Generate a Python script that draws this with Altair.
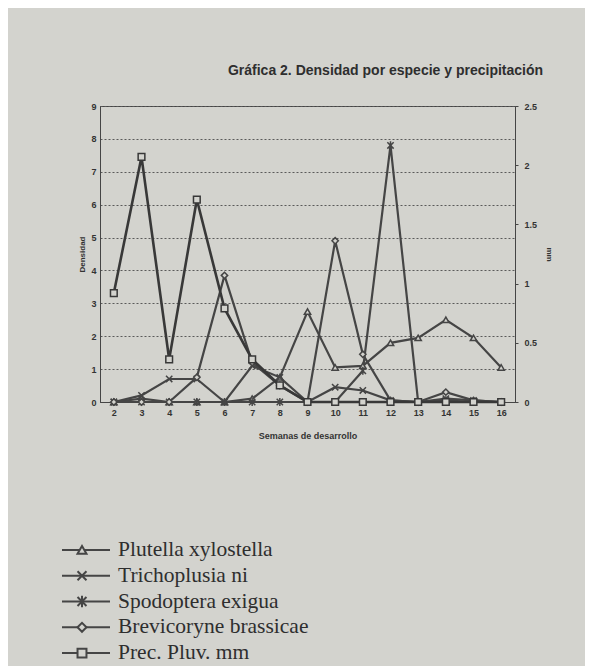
import altair as alt
import pandas as pd

# ---- data ----
semanas = list(range(2, 17))
plutella = [0, 0.1, 0, 0, 0, 0.1, 0.75, 2.75, 1.05, 1.1, 1.8, 1.95, 2.5, 1.95, 1.05]
trichoplusia = [0, 0.2, 0.7, 0.7, 0, 1.1, 0.75, 0, 0.45, 0.35, 0.05, 0, 0.1, 0.05, 0]
spodoptera = [0, 0, 0, 0, 0, 0, 0, 0, 0, 0.95, 7.8, 0, 0.05, 0, 0]
brevicoryne = [0, 0, 0, 0.75, 3.85, 1.2, 0.5, 0, 4.9, 1.45, 0.05, 0, 0.3, 0.05, 0]
prec_mm = [0.92, 2.07, 0.36, 1.71, 0.79, 0.36, 0.14, 0, 0, 0, 0, 0, 0, 0, 0]

species_names = ["Plutella xylostella", "Trichoplusia ni", "Spodoptera exigua",
                 "Brevicoryne brassicae"]
prec_name = "Prec. Pluv. mm"
all_names = species_names + [prec_name]
density_ticks = list(range(0, 10))
mm_ticks = [0, 0.5, 1, 1.5, 2, 2.5]

title_text = "Gráfica 2. Densidad por especie y precipitación"

# ---- styles ----
BG = "#d3d3ce"
INK = "#454545"
shapes = [
    "triangle-up",
    "M-1,-1L1,1M-1,1L1,-1",
    "M-1,-1L1,1M-1,1L1,-1M0,-1.3L0,1.3",
    "diamond",
    "square",
]

rows = []
for name, vals in zip(species_names, [plutella, trichoplusia, spodoptera, brevicoryne]):
    for s, v in zip(semanas, vals):
        rows.append({"semana": s, "serie": name, "densidad": v})
df_sp = pd.DataFrame(rows)
df_pr = pd.DataFrame({"semana": semanas, "mm": prec_mm, "serie": prec_name})

shape_enc = alt.Shape("serie:N", scale=alt.Scale(domain=all_names, range=shapes), legend=None)

x = alt.X("semana:O", title="Semanas de desarrollo",
          axis=alt.Axis(labelAngle=0, ticks=False, labelPadding=6, titlePadding=14))
y_left = alt.Y("densidad:Q", title="Densidad",
               scale=alt.Scale(domain=[0, 9], nice=False),
               axis=alt.Axis(values=density_ticks, grid=True, ticks=False,
                             labelPadding=4, titlePadding=4, titleFontSize=8))
y_right = alt.Y("mm:Q", title="mm",
                scale=alt.Scale(domain=[0, 2.5], nice=False),
                axis=alt.Axis(orient="right", values=mm_ticks, grid=False, format="~g",
                              ticks=True, tickSize=3, labelPadding=6, titlePadding=8,
                              titleFontSize=8))

sp_line = alt.Chart(df_sp).mark_line(color=INK, strokeWidth=2.2).encode(
    x=x, y=y_left, detail="serie:N")
sp_pts = alt.Chart(df_sp).mark_point(
    filled=False, fill=BG, fillOpacity=1, color=INK, strokeWidth=1.5, size=40, opacity=1
).encode(x=x, y=y_left, shape=shape_enc)
species_layer = alt.layer(sp_line, sp_pts)

pr_line = alt.Chart(df_pr).mark_line(color="#383838", strokeWidth=2.6).encode(x=x, y=y_right)
pr_pts = alt.Chart(df_pr).mark_point(
    filled=False, fill=BG, fillOpacity=1, color="#383838", strokeWidth=1.5, size=45, opacity=1
).encode(x=x, y=y_right, shape=shape_enc)
prec_layer = alt.layer(pr_line, pr_pts)

top = alt.layer(species_layer, prec_layer).resolve_scale(y="independent").properties(
    width=415, height=296,
    title=alt.Title(title_text, anchor="middle", dx=78, fontSize=14, font="Liberation Sans",
                    fontWeight="bold", color="#2e2e2e", offset=24),
)

# ---- hand-drawn style legend ----
df_leg = pd.DataFrame({"serie": all_names})
yl = alt.Y("serie:N", sort=all_names, axis=None, scale=alt.Scale(type="point", padding=0.5))
leg_rule = alt.Chart(df_leg).mark_rule(color=INK, strokeWidth=2).encode(
    x=alt.value(-38), x2=alt.value(10), y=yl)
leg_pts = alt.Chart(df_leg).mark_point(
    filled=False, fill=BG, fillOpacity=1, color=INK, strokeWidth=2, size=80, opacity=1
).encode(x=alt.value(-18), y=yl, shape=shape_enc)
leg_txt = alt.Chart(df_leg).mark_text(
    align="left", baseline="middle", font="Liberation Serif", fontSize=21.5, color="#2e2e2e"
).encode(x=alt.value(18), y=yl, text="serie:N")
legend = alt.layer(leg_rule, leg_pts, leg_txt).properties(
    width=300, height=129, view=alt.ViewBackground(stroke="transparent"))

chart = alt.vconcat(top, legend, spacing=95).properties(
    padding={"left": 52, "top": 55, "right": 31, "bottom": 5},
    background=BG,
).configure_view(stroke=INK, strokeWidth=1).configure_axis(
    labelFont="Liberation Sans", labelFontSize=9, labelFontWeight="bold", labelColor="#333333",
    titleFont="Liberation Sans", titleFontSize=9, titleFontWeight="bold", titleColor="#333333",
    domainColor=INK, tickColor=INK, gridColor="#5a5a5a", gridDash=[2, 2], gridWidth=1,
)

chart.save("out.html", embed_options={"renderer": "svg", "actions": False})
